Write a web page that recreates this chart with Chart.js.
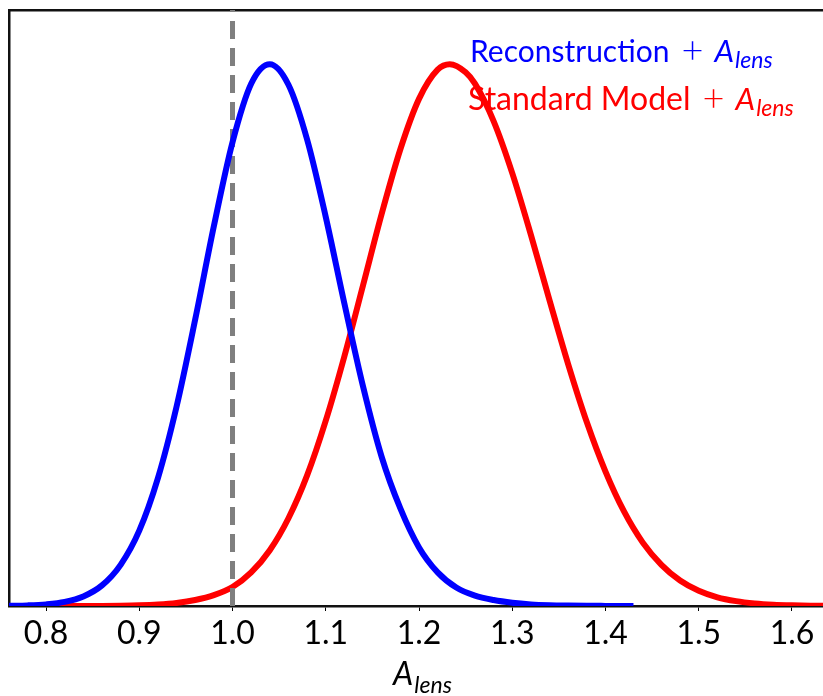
<!DOCTYPE html>
<html>
<head>
<meta charset="utf-8">
<script src="https://cdn.jsdelivr.net/npm/chart.js@4"></script>
<style>
  html, body { margin: 0; padding: 0; background: #fff; overflow: hidden; }
  #wrap { position: absolute; left: 0; top: 0; width: 840px; height: 696px; }
</style>
</head>
<body>
<div id="wrap"><canvas id="c" width="840" height="696"></canvas></div>
<script>
// ---- data ----
const seriesNames = ['Reconstruction', 'Standard Model'];
const paramLabel = 'A';
const paramSub = 'lens';

const blueX = [0.76,0.78,0.80,0.82,0.84,0.86,0.88,0.90,0.92,0.94,0.96,0.98,1.00,1.02,1.04,1.06,1.08,1.10,1.12,1.14,1.16,1.18,1.20,1.22,1.24,1.26,1.28,1.30,1.32,1.34,1.36,1.38,1.40,1.42,1.43];
const blueY = [0.0004,0.0011,0.003,0.0075,0.0176,0.038,0.076,0.139,0.236,0.368,0.529,0.701,0.856,0.964,1.000,0.962,0.861,0.718,0.558,0.405,0.275,0.180,0.108,0.062,0.034,0.019,0.011,0.006,0.003,0.0015,0.0008,0.0004,0.0002,0.0001,0.0001];

const redX = [0.80,0.82,0.84,0.86,0.88,0.90,0.92,0.94,0.96,0.98,1.00,1.02,1.04,1.06,1.08,1.10,1.12,1.14,1.16,1.18,1.20,1.22,1.233,1.25,1.26,1.28,1.30,1.32,1.34,1.36,1.38,1.40,1.42,1.44,1.46,1.48,1.50,1.52,1.54,1.56,1.58,1.60,1.62,1.64,1.66];
const redY = [0.0000,0.0000,0.0001,0.0002,0.0005,0.0012,0.0027,0.0056,0.011,0.020,0.035,0.062,0.103,0.162,0.241,0.342,0.461,0.592,0.724,0.843,0.936,0.990,1.000,0.985,0.964,0.895,0.799,0.685,0.564,0.446,0.339,0.248,0.174,0.117,0.076,0.047,0.028,0.016,0.009,0.0048,0.0024,0.0012,0.0006,0.0003,0.0001];

const refX = [1.0, 1.0];
const refY = [0, 1.1];

const xTicks = [0.8, 0.9, 1.0, 1.1, 1.2, 1.3, 1.4, 1.5, 1.6];
const xRange = [0.7603, 1.6472];
const yRange = [0, 1.1];

const toPts = (xs, ys) => xs.map((x, i) => ({ x: x, y: ys[i] }));

const FONT = 'Lato, "DejaVu Sans", sans-serif';

// draws legend texts and axis title (with subscripts)
const textPlugin = {
  id: 'texts',
  afterDraw(chart) {
    const ctx = chart.ctx;
    function drawLabel(x, y, name, color, size) {
      ctx.save();
      ctx.fillStyle = color;
      ctx.textBaseline = 'alphabetic';
      ctx.textAlign = 'left';
      ctx.font = size + 'px ' + FONT;
      ctx.fillText(name, x, y);
      let cx = x + ctx.measureText(name).width + 12;
      ctx.font = '300 38px ' + FONT;
      ctx.fillText('+', cx, y + 1);
      cx += ctx.measureText('+').width + 11;
      ctx.font = 'italic 31px ' + FONT;
      ctx.fillText(paramLabel, cx, y);
      cx += ctx.measureText(paramLabel).width + 1;
      ctx.font = 'italic 23px ' + FONT;
      ctx.fillText(paramSub, cx, y + 6);
      ctx.restore();
    }
    drawLabel(470, 62, seriesNames[0], '#0000ff', 30);
    drawLabel(468, 110, seriesNames[1], '#ff0000', 32);

    // x axis title
    ctx.save();
    ctx.fillStyle = '#000';
    ctx.textBaseline = 'alphabetic';
    ctx.font = 'italic 32px ' + FONT;
    const wA = ctx.measureText(paramLabel).width;
    ctx.font = 'italic 23px ' + FONT;
    const wS = ctx.measureText(paramSub).width;
    const ca = chart.chartArea;
    const cxm = (ca.left + ca.right) / 2;
    let sx = cxm - (wA + wS + 1) / 2;
    ctx.font = 'italic 32px ' + FONT;
    ctx.fillText(paramLabel, sx, 685);
    ctx.font = 'italic 23px ' + FONT;
    ctx.fillText(paramSub, sx + wA + 1, 693);
    ctx.restore();
  }
};

new Chart(document.getElementById('c'), {
  type: 'line',
  data: {
    datasets: [
      { label: seriesNames[0], data: toPts(blueX, blueY), borderColor: '#0000ff', borderWidth: 6, pointRadius: 0, fill: false, cubicInterpolationMode: 'monotone' },
      { label: 'ref', data: toPts(refX, refY), borderColor: '#7f7f7f', borderWidth: 5, borderDash: [18, 9], pointRadius: 0, fill: false },
      { label: seriesNames[1], data: toPts(redX, redY), borderColor: '#ff0000', borderWidth: 6, pointRadius: 0, fill: false, cubicInterpolationMode: 'monotone' }
    ]
  },
  options: {
    responsive: false,
    animation: false,
    devicePixelRatio: 1,
    layout: { padding: { left: 0, right: 4, top: 0, bottom: 0 } },
    plugins: { legend: { display: false }, tooltip: { enabled: false } },
    scales: {
      x: {
        type: 'linear', position: 'bottom',
        min: xRange[0], max: xRange[1],
        afterBuildTicks: (s) => { s.ticks = xTicks.map(v => ({ value: v })); },
        afterFit: (s) => { s.height = 90; },
        ticks: { color: '#000', font: { family: FONT, size: 32 }, padding: 3, maxRotation: 0, autoSkip: false, callback: (v) => Number(v).toFixed(1) },
        grid: { display: true, drawOnChartArea: false, drawTicks: true, tickLength: 5, color: '#000', lineWidth: 1 },
        border: { display: true, color: '#111', width: 2.5 }
      },
      x2: {
        type: 'linear', position: 'top',
        min: xRange[0], max: xRange[1],
        afterFit: (s) => { s.height = 10; },
        ticks: { display: false },
        grid: { display: false },
        border: { display: true, color: '#111', width: 2.5 }
      },
      y: {
        type: 'linear', position: 'left',
        min: yRange[0], max: yRange[1],
        afterFit: (s) => { s.width = 9; },
        ticks: { display: false },
        grid: { display: false },
        border: { display: true, color: '#111', width: 2.5 }
      }
    }
  },
  plugins: [textPlugin]
});
</script>
</body>
</html>
